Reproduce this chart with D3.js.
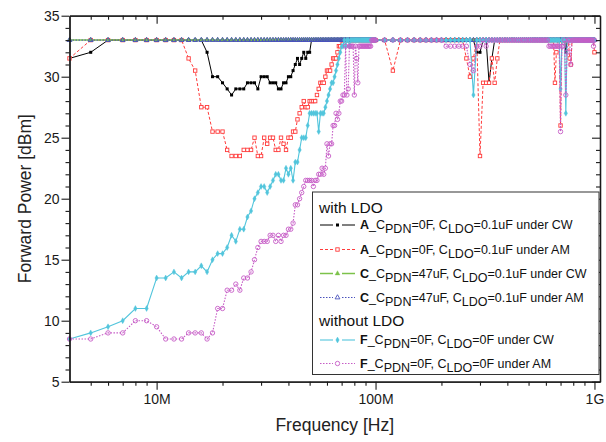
<!DOCTYPE html>
<html>
<head>
<meta charset="utf-8">
<script src="https://cdn.jsdelivr.net/npm/d3@7"></script>
<style>
  body { margin: 0; background: #fff; }
  svg { display: block; }
  text { font-family: "Liberation Sans", Arial, sans-serif; }
</style>
</head>
<body>
<svg id="chart" width="606" height="442"></svg>
<script>
// Sweep frequencies in MHz: 1 MHz steps up to 100 MHz, 10 MHz steps above.
const freqLowMHz = [
  4, 5, 6, 7, 8, 9, 10, 11, 12, 13,
  14, 15, 16, 17, 18, 19, 20, 21, 22, 23,
  24, 25, 26, 27, 28, 29, 30, 31, 32, 33,
  34, 35, 36, 37, 38, 39, 40, 41, 42, 43,
  44, 45, 46, 47, 48, 49, 50, 51, 52, 53,
  54, 55, 56, 57, 58, 59, 60, 61, 62, 63,
  64, 65, 66, 67, 68, 69, 70, 71, 72, 73,
  74, 75, 76, 77, 78, 79, 80, 81, 82, 83,
  84, 85, 86, 87, 88, 89, 90, 91, 92, 93,
  94, 95, 96, 97, 98, 99, 100
];
const freqHighMHz = [
  110, 120, 130, 140, 150, 160, 170, 180, 190, 200,
  210, 220, 230, 240, 250, 260, 270, 280, 290, 300,
  310, 320, 330, 340, 350, 360, 370, 380, 390, 400,
  410, 420, 430, 440, 450, 460, 470, 480, 490, 500,
  510, 520, 530, 540, 550, 560, 570, 580, 590, 600,
  610, 620, 630, 640, 650, 660, 670, 680, 690, 700,
  710, 720, 730, 740, 750, 760, 770, 780, 790, 800,
  810, 820, 830, 840, 850, 860, 870, 880, 890, 900,
  910, 920, 930, 940, 950, 960, 970, 980, 990, 1000
];

// Forward power [dBm] at each sweep frequency.
const powerA_CW = [
  31.5, 32, 33, 33, 33, 33, 33, 33, 33, 33,
  33, 33, 33, 32, 30, 30, 29.5, 29, 28.5, 29,
  29, 29, 29.5, 29.5, 29.5, 29, 30, 30, 30, 29.5,
  29.5, 29.5, 29, 29, 29.5, 29.5, 30, 30, 30.5, 31,
  31.5, 31, 31.5, 32, 31.5, 32, 32, 33, 33, 33,
  33, 33, 33, 33, 33, 33, 33, 33, 33, 33,
  33, 33, 33, 33, 33, 33, 33, 33, 33, 33,
  33, 33, 33, 33, 33, 33, 33, 33, 33, 33,
  33, 33, 33, 33, 33, 33, 33, 33, 33, 33,
  33, 33, 33, 33, 33, 33, 33,
  33, 33, 33, 33, 33, 33, 33, 33, 33, 33,
  33, 33, 33, 33, 33, 33, 33, 33, 32, 32,
  33, 33, 29.5, 31.5, 33, 33, 33, 33, 33, 33,
  33, 33, 33, 33, 33, 33, 33, 33, 33, 33,
  33, 33, 33, 33, 33, 33, 33, 33, 33, 33,
  33, 33, 33, 33, 33, 33, 33, 33, 33, 33,
  33, 33, 33, 32, 33, 33, 33, 33, 33, 33,
  33, 33, 33, 33, 33, 33, 33, 33, 33, 33,
  33, 33, 33, 33, 33, 33, 33, 33, 33, 33
];
const powerA_AM = [
  31.5, 33, 33, 33, 33, 33, 33, 33, 33, 33,
  31.5, 30.5, 27.5, 27.5, 25.5, 25.5, 25.5, 24, 23.5, 23.5,
  23.5, 24, 24, 24, 25, 23.5, 23.5, 25, 24.5, 25,
  25, 24, 24, 25, 24.5, 24, 25, 25, 25.5, 25.5,
  26.5, 27, 27.5, 28, 27.5, 27.5, 28, 28, 28, 28,
  28.5, 29, 29.5, 29.5, 29.5, 30, 30.5, 30.5, 30.5, 31,
  31.5, 31.5, 31.5, 32, 32.5, 32.5, 33, 33, 33, 33,
  33, 33, 33, 33, 33, 33, 33, 33, 33, 33,
  33, 33, 33, 33, 33, 33, 33, 33, 33, 33,
  33, 33, 33, 33, 33, 33, 33,
  33, 30.5, 33, 33, 33, 33, 33, 33, 33, 33,
  33, 33, 33, 33, 33, 31.5, 30, 31.5, 33, 23.5,
  29.5, 29.5, 29.5, 31.5, 29.5, 31.5, 33, 33, 33, 33,
  33, 33, 33, 33, 33, 33, 33, 33, 33, 33,
  33, 33, 33, 33, 33, 33, 33, 33, 33, 33,
  33, 33, 33, 33, 33, 29.5, 32, 33, 33, 26,
  33, 33, 33, 33, 33, 33, 31.5, 31, 33, 33,
  33, 33, 33, 33, 33, 33, 33, 33, 33, 33,
  33, 33, 33, 33, 33, 33, 33, 33, 33, 32
];
const powerC_CW = [
  33, 33, 33, 33, 33, 33, 33, 33, 33, 33,
  33, 33, 33, 33, 33, 33, 33, 33, 33, 33,
  33, 33, 33, 33, 33, 33, 33, 33, 33, 33,
  33, 33, 33, 33, 33, 33, 33, 33, 33, 33,
  33, 33, 33, 33, 33, 33, 33, 33, 33, 33,
  33, 33, 33, 33, 33, 33, 33, 33, 33, 33,
  33, 33, 33, 33, 33, 33, 33, 33, 33, 33,
  33, 33, 33, 33, 33, 33, 33, 33, 33, 33,
  33, 33, 33, 33, 33, 33, 33, 33, 33, 33,
  33, 33, 33, 33, 33, 33, 33,
  33, 33, 33, 33, 33, 33, 33, 33, 33, 33,
  33, 33, 33, 33, 33, 33, 33, 33, 33, 33,
  33, 33, 33, 33, 33, 33, 33, 33, 33, 33,
  33, 33, 33, 33, 33, 33, 33, 33, 33, 33,
  33, 33, 33, 33, 33, 33, 33, 33, 33, 33,
  33, 33, 33, 33, 33, 33, 33, 33, 33, 33,
  33, 33, 33, 33, 33, 33, 33, 33, 33, 33,
  33, 33, 33, 33, 33, 33, 33, 33, 33, 33,
  33, 33, 33, 33, 33, 33, 33, 33, 33, 33
];
const powerC_AM = [
  33, 33, 33, 33, 33, 33, 33, 33, 33, 33,
  33, 33, 33, 33, 33, 33, 33, 33, 33, 33,
  33, 33, 33, 33, 33, 33, 33, 33, 33, 33,
  33, 33, 33, 33, 33, 33, 33, 33, 33, 33,
  33, 33, 33, 33, 33, 33, 33, 33, 33, 33,
  33, 33, 33, 33, 33, 33, 33, 33, 33, 33,
  33, 33, 33, 33, 33, 33, 33, 33, 33, 33,
  33, 33, 33, 33, 33, 33, 33, 33, 33, 33,
  33, 33, 33, 33, 33, 33, 33, 33, 33, 33,
  33, 33, 33, 33, 33, 33, 33,
  33, 33, 33, 33, 33, 33, 33, 33, 33, 33,
  33, 33, 33, 33, 33, 33, 33, 33, 33, 33,
  33, 33, 33, 33, 33, 33, 33, 33, 33, 33,
  33, 33, 33, 33, 33, 33, 33, 33, 33, 33,
  33, 33, 33, 33, 33, 33, 33, 33, 33, 33,
  33, 33, 33, 33, 33, 33, 33, 33, 33, 33,
  33, 33, 33, 33, 33, 33, 33, 33, 33, 33,
  33, 33, 33, 33, 33, 33, 33, 33, 33, 33,
  33, 33, 33, 33, 33, 33, 33, 33, 33, 33
];
const powerF_CW = [
  8.5, 9, 9.5, 10, 11, 11, 13.5, 13.5, 14, 13.5,
  14, 14, 14.5, 14, 15, 15.5, 15.5, 16, 17, 16.5,
  17.5, 17.5, 18.5, 19, 20, 20.5, 21, 21, 20.5, 21,
  21.5, 22, 22, 21.5, 21.5, 22.5, 22, 22.5, 21.5, 23,
  23, 24, 25, 25, 25, 26, 27, 27, 27, 27,
  27, 25.5, 27, 27, 27, 27.5, 28, 28.5, 29, 29.5,
  29.5, 30, 30.5, 31, 31.5, 32, 32.5, 32.5, 33, 32.5,
  33, 33, 32.5, 33, 33, 33, 33, 33, 33, 33,
  33, 33, 33, 33, 33, 33, 33, 33, 33, 33,
  33, 33, 33, 33, 33, 33, 33,
  33, 33, 33, 33, 33, 33, 33, 33, 33, 33,
  33, 33, 33, 33, 33, 33, 33, 28.5, 33, 33,
  33, 33, 33, 33, 33, 33, 33, 33, 33, 33,
  33, 33, 33, 33, 33, 33, 33, 33, 33, 33,
  33, 33, 33, 33, 33, 33, 33, 33, 33, 33,
  33, 33, 33, 33, 33, 33, 33, 33, 33, 29,
  33, 33, 33, 27, 33, 33, 33, 33, 33, 33,
  33, 33, 33, 33, 33, 33, 33, 33, 33, 33,
  33, 33, 33, 33, 33, 33, 33, 33, 33, 33
];
const powerF_AM = [
  8.5, 8.5, 9, 9, 10, 10, 9.5, 8.5, 8.5, 8.5,
  9, 9, 9, 8.5, 9, 11, 11, 12.5, 12.5, 13,
  12.5, 13.5, 13.5, 14, 15, 16, 16.5, 16.5, 16.5, 17,
  17, 16.5, 17, 16.5, 17, 17, 17.5, 17.5, 18, 19.5,
  19.5, 20, 20.5, 21, 21.5, 21.5, 21.5, 21.5, 21, 21.5,
  21.5, 22, 22, 22.5, 22, 22.5, 24.5, 23.5, 24.5, 24.5,
  26, 26, 27, 26.5, 27, 28, 28, 28.5, 28.5, 32.5,
  28.5, 29, 32.5, 32.5, 32.5, 32.5, 28.5, 32.5, 31.5, 29.5,
  32.5, 32.5, 32.5, 32.5, 32.5, 32.5, 32.5, 32.5, 32.5, 32.5,
  32.5, 32.5, 33, 33, 33, 33, 33,
  33, 33, 33, 33, 33, 33, 33, 33, 33, 33,
  32.5, 32.5, 32.5, 32.5, 32.5, 32.5, 31, 30.5, 32.5, 32.5,
  33, 32.5, 33, 33, 33, 33, 33, 33, 33, 33,
  33, 33, 33, 33, 33, 33, 33, 33, 33, 33,
  33, 33, 33, 33, 33, 33, 33, 33, 33, 33,
  33, 32.5, 32.5, 32.5, 32.5, 32.5, 32.5, 32.5, 32.5, 25.5,
  32.5, 32.5, 33, 28.5, 32, 33, 33, 31, 33, 33,
  33, 33, 33, 33, 33, 33, 33, 33, 33, 33,
  33, 33, 33, 33, 33, 33, 33, 33, 32.5, 33
];

// Axis ticks
const xMajorHz = [1e7, 1e8, 1e9];
const xTickLabels = ["10M", "100M", "1G"];
const yMajor = [5, 10, 15, 20, 25, 30, 35];

// Legend text pieces
const legendBoard = ["A", "A", "C", "C", "F", "F"];
const legendPdn = ["0F", "0F", "47uF", "47uF", "0F", "0F"];
const legendLdo = ["0.1uF", "0.1uF", "0.1uF", "0.1uF", "0F", "0F"];
const legendMode = ["CW", "AM", "CW", "AM", "CW", "AM"];

const freqMHz = freqLowMHz.concat(freqHighMHz);

const plot = { left: 69.5, right: 600, top: 15.7, bottom: 381.7 };
const svg = d3.select("#chart");

const x = d3.scaleLog().domain([4e6, 1.06e9]).range([plot.left, plot.right]);
const y = d3.scaleLinear().domain([5, 35]).range([plot.bottom, plot.top]);

const axisColor = "#1a1a1a";

// Minor tick positions: 2..9 within each decade
const xMinorHz = [];
[1e6, 1e7, 1e8].forEach(dec => {
  for (let k = 2; k <= 9; k++) {
    const v = k * dec;
    if (v > 4e6 && v < 1.06e9) xMinorHz.push(v);
  }
});
const yMinor = d3.range(6, 35).filter(v => v % 5 !== 0);

function styleAxis(g, size) {
  g.selectAll("path.domain").attr("stroke", axisColor).attr("stroke-width", 1.3);
  g.selectAll(".tick line").attr("stroke", axisColor).attr("stroke-width", 1.1);
  g.selectAll(".tick text").attr("font-size", size || 14).attr("fill", axisColor)
    .attr("font-family", "'Liberation Sans', Arial, sans-serif");
}

// Series definitions
const series = [
  { values: powerA_CW, color: "#000000", width: 1, dash: null, marker: "square", fill: true, msize: 3 },
  { values: powerA_AM, color: "#ff3b3b", width: 1, dash: "3,2", marker: "square", fill: false, msize: 3.4 },
  { values: powerC_CW, color: "#7cc24a", width: 1.5, dash: null, marker: "triangle", fill: true, msize: 10 },
  { values: powerC_AM, color: "#4a52bc", width: 1, dash: "1.5,1.5", marker: "triangle", fill: false, msize: 10 },
  { values: powerF_CW, color: "#52c5dc", width: 1.1, dash: null, marker: "diamond", fill: true, msize: 10 },
  { values: powerF_AM, color: "#c65cc6", width: 1.1, dash: "1.5,1.5", marker: "circle", fill: false, msize: 2.2 }
];

const line = d3.line()
  .x(d => x(d.f * 1e6))
  .y(d => y(d.v));

function drawMarker(g, s, px, py) {
  if (s.marker === "square") {
    g.append("rect")
      .attr("x", px - s.msize / 2).attr("y", py - s.msize / 2)
      .attr("width", s.msize).attr("height", s.msize)
      .attr("fill", s.fill ? s.color : "#fff")
      .attr("stroke", s.color).attr("stroke-width", s.fill ? 0 : 0.9);
  } else if (s.marker === "circle") {
    g.append("circle")
      .attr("cx", px).attr("cy", py).attr("r", s.msize)
      .attr("fill", "none").attr("stroke", s.color).attr("stroke-width", 0.9);
  } else {
    const type = s.marker === "triangle" ? d3.symbolTriangle : d3.symbolDiamond;
    g.append("path")
      .attr("d", d3.symbol().type(type).size(s.msize)())
      .attr("transform", `translate(${px},${py})`)
      .attr("fill", s.fill ? s.color : "none")
      .attr("stroke", s.color).attr("stroke-width", s.fill ? 0.4 : 0.9);
  }
}

const dataLayer = svg.append("g");
series.forEach(s => {
  const pts = freqMHz.map((f, i) => ({ f, v: s.values[i] }));
  const g = dataLayer.append("g");
  g.append("path")
    .datum(pts)
    .attr("d", line)
    .attr("fill", "none")
    .attr("stroke", s.color)
    .attr("stroke-width", s.width)
    .attr("stroke-dasharray", s.dash);
  pts.forEach(p => drawMarker(g, s, x(p.f * 1e6), y(p.v)));
});

// Axes: bottom and left with outward ticks, top and right with inward ticks
const gBottom = svg.append("g").attr("transform", `translate(0,${plot.bottom})`);
gBottom.append("g").call(d3.axisBottom(x).tickValues(xMinorHz).tickFormat("").tickSize(4).tickSizeOuter(0)).call(styleAxis);
gBottom.append("g").call(d3.axisBottom(x).tickValues(xMajorHz).tickFormat((d, i) => xTickLabels[i]).tickSize(8).tickSizeOuter(0).tickPadding(4)).call(styleAxis);

const gTop = svg.append("g").attr("transform", `translate(0,${plot.top})`);
gTop.append("g").call(d3.axisTop(x).tickValues(xMinorHz).tickFormat("").tickSize(-4).tickSizeOuter(0)).call(styleAxis);
gTop.append("g").call(d3.axisTop(x).tickValues(xMajorHz).tickFormat("").tickSize(-8).tickSizeOuter(0)).call(styleAxis);

const gLeft = svg.append("g").attr("transform", `translate(${plot.left},0)`);
gLeft.append("g").call(d3.axisLeft(y).tickValues(yMinor).tickFormat("").tickSize(4).tickSizeOuter(0)).call(styleAxis);
gLeft.append("g").call(d3.axisLeft(y).tickValues(yMajor).tickFormat(d3.format("d")).tickSize(8).tickSizeOuter(0).tickPadding(2)).call(styleAxis);

const gRight = svg.append("g").attr("transform", `translate(${plot.right},0)`);
gRight.append("g").call(d3.axisRight(y).tickValues(yMinor).tickFormat("").tickSize(-4).tickSizeOuter(0)).call(styleAxis);
gRight.append("g").call(d3.axisRight(y).tickValues(yMajor).tickFormat("").tickSize(-8).tickSizeOuter(0)).call(styleAxis);

// Axis titles
svg.append("text")
  .attr("x", (plot.left + plot.right) / 2).attr("y", 431)
  .attr("text-anchor", "middle").attr("font-size", 17.5).attr("fill", "#222")
  .text("Frequency [Hz]");
svg.append("text")
  .attr("transform", `translate(31,${(plot.top + plot.bottom) / 2}) rotate(-90)`)
  .attr("text-anchor", "middle").attr("font-size", 17.5).attr("fill", "#222")
  .text("Forward Power [dBm]");

// Legend
const legend = svg.append("g");
legend.append("rect")
  .attr("x", 312.5).attr("y", 192).attr("width", 286.5).attr("height", 182.5)
  .attr("fill", "#fff").attr("stroke", "#333").attr("stroke-width", 1);

legend.append("text").attr("x", 319).attr("y", 212.5).attr("font-size", 15.5).attr("fill", "#111").text("with LDO");
legend.append("text").attr("x", 319).attr("y", 326).attr("font-size", 15.5).attr("fill", "#111").text("without LDO");

const rowY = [225, 249.5, 273.5, 297.5, 340, 363.5];
series.forEach((s, i) => {
  const cy = rowY[i];
  const g = legend.append("g");
  [[320, 333], [342, 355]].forEach(([a, b]) => {
    g.append("line")
      .attr("x1", a).attr("x2", b).attr("y1", cy).attr("y2", cy)
      .attr("stroke", s.color).attr("stroke-width", s.width)
      .attr("stroke-dasharray", s.dash);
  });
  drawMarker(g, s, 337.5, cy);

  const t = g.append("text").attr("x", 360).attr("y", cy + 4).attr("font-size", 12.5).attr("fill", "#111");
  t.append("tspan").attr("font-weight", "bold").text(legendBoard[i]);
  t.append("tspan").text("_C");
  t.append("tspan").attr("dy", 4).text("PDN");
  t.append("tspan").attr("dy", -4).text("=" + legendPdn[i] + ", C");
  t.append("tspan").attr("dy", 4).text("LDO");
  t.append("tspan").attr("dy", -4).text("=" + legendLdo[i] + " under " + legendMode[i]);
});
</script>
</body>
</html>
